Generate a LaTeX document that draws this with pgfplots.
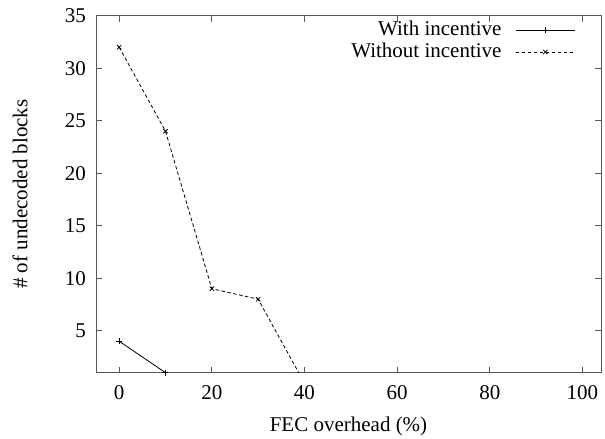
\documentclass[border=0pt]{standalone}
\usepackage{pgfplots}
\pgfplotsset{compat=1.18}
\usepackage{fontspec}
\setmainfont{Liberation Serif}
\begin{document}
\fontsize{21}{25}\selectfont
\begin{tikzpicture}
\begin{axis}[
  name=ax,
  scale only axis,
  width=505pt, height=357pt,
  xmin=-5, xmax=104,
  ymin=1, ymax=35,
  xtick={0,20,40,60,80,100},
  ytick={5,10,15,20,25,30,35},
  tick align=inside,
  major tick length=6pt,
  axis line style={black!65, line width=0.8pt},
  every tick/.style={black!65, line width=0.8pt},
  /pgf/number format/assume math mode=true,
  tick label style={font=\fontsize{21}{25}\selectfont},
  label style={font=\fontsize{21}{25}\selectfont},
  xlabel={FEC overhead (\%)},
  ylabel={\# of undecoded blocks},
  every axis x label/.style={at={(axis description cs:0.5,0)}, yshift=-54pt, anchor=center},
  every axis y label/.style={at={(axis description cs:0,0.5)}, xshift=-76pt, anchor=center, rotate=90},
  y tick label style={xshift=-3pt},
  x tick label style={yshift=-6pt},
  legend plot pos=right,
  legend cell align=right,
  legend style={at={(1,1)}, anchor=north east, xshift=-24pt, yshift=-2pt,
    draw=none, fill=none, font=\fontsize{21}{25}\selectfont,
    row sep=0pt, inner sep=1.5pt,
    /tikz/every odd column/.append style={column sep=12pt}},
  legend image code/.code={\draw[#1,mark indices={2}] plot coordinates {(0pt,0pt) (29.5pt,0pt) (59pt,0pt)};},
]
\addplot[black, line width=0.8pt, mark=+, mark size=3pt, mark options={solid}]
  coordinates {(0,4) (10,1)};
\addlegendentry{With incentive}
\addplot[black, line width=0.8pt, dash pattern=on 3.5pt off 2.5pt, mark=x, mark size=3pt, mark options={solid}, mark indices={1,2,3,4}]
  coordinates {(0,32) (10,24) (20,9) (30,8) (40,0)};
\addlegendentry{Without incentive}
\end{axis}
\pgfresetboundingbox
\path ([xshift=-96pt,yshift=-65.5pt]ax.south west) rectangle ([xshift=4pt,yshift=15.7pt]ax.north east);
\end{tikzpicture}
\end{document}
